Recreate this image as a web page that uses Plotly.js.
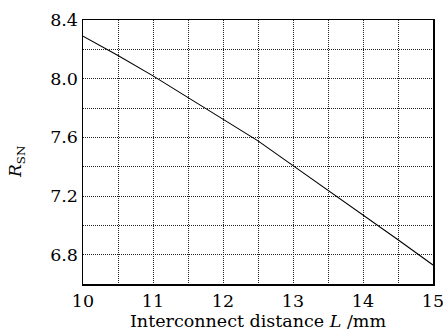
<!DOCTYPE html>
<html>
<head>
<meta charset="utf-8">
<script src="https://cdn.plot.ly/plotly-3.0.1.min.js"></script>
<style>html,body{margin:0;padding:0;background:#fff;}#chart{width:443px;height:331px;}</style>
</head>
<body>
<div id="chart"></div>
<script>
const distanceL = [10, 10.5, 11, 11.5, 12, 12.5, 13, 13.5, 14, 14.5, 15];
const rSN = [8.29, 8.158, 8.019, 7.871, 7.725, 7.576, 7.407, 7.24, 7.071, 6.902, 6.73];
const xTickVals = [10, 11, 12, 13, 14, 15];
const yTickVals = [6.8, 7.2, 7.6, 8.0, 8.4];

const fam = 'DejaVu Serif, Liberation Serif, serif';
const gridStyle = {gridcolor: '#222', griddash: '1px,1px', gridwidth: 1};

const trace = {
  x: distanceL, y: rSN, mode: 'lines', type: 'scatter',
  line: {color: '#000', width: 1.1}, hoverinfo: 'skip'
};

const layout = {
  width: 443, height: 331,
  margin: {l: 83, r: 10, t: 20, b: 47},
  paper_bgcolor: '#fff', plot_bgcolor: '#fff',
  showlegend: false,
  font: {family: fam, size: 16, color: '#000'},
  xaxis: Object.assign({
    range: [10, 15], tickvals: xTickVals, ticks: '',
    showgrid: true, ticklabeloverflow: 'allow',
    minor: Object.assign({dtick: 0.5, showgrid: true}, gridStyle),
    showline: true, linecolor: '#000', linewidth: 1.5, mirror: true, zeroline: false,
    tickfont: {family: fam, size: 17.5, color: '#000'},
    title: {text: 'Interconnect distance <i>L</i> /mm', font: {family: fam, size: 17.5, color: '#000'}, standoff: 5}
  }, gridStyle),
  yaxis: Object.assign({
    range: [6.6, 8.4], tickvals: yTickVals, tickformat: '.1f', ticks: '',
    showgrid: true,
    minor: Object.assign({dtick: 0.2, showgrid: true}, gridStyle),
    showline: true, linecolor: '#000', linewidth: 1.5, mirror: true, zeroline: false,
    tickfont: {family: fam, size: 17.5, color: '#000'}
  }, gridStyle),
  annotations: [{
    text: '<i>R</i><sub>SN</sub>', xref: 'paper', yref: 'paper',
    x: -0.19, y: 0.46, xanchor: 'center', yanchor: 'middle', textangle: -90,
    showarrow: false, font: {family: fam, size: 17, color: '#000'}
  }]
};

Plotly.newPlot('chart', [trace], layout, {displayModeBar: false, staticPlot: true});
</script>
</body>
</html>
